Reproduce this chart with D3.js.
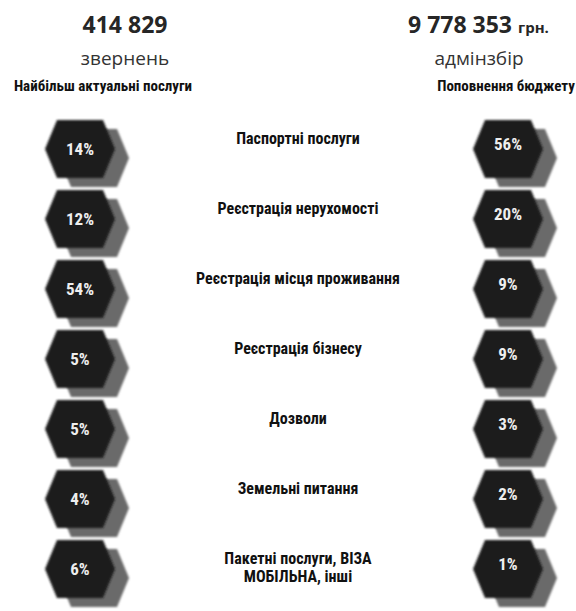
<!DOCTYPE html>
<html>
<head>
<meta charset="utf-8">
<script src="https://cdn.jsdelivr.net/npm/d3@7"></script>
<style>
    body { margin: 0; background: #fff; }
    svg { display: block; }
</style>
</head>
<body>
<div id="chart"></div>
<script>
(function() {
    const services = [
        'Паспортні послуги',
        'Реєстрація нерухомості',
        'Реєстрація місця проживання',
        'Реєстрація бізнесу',
        'Дозволи',
        'Земельні питання',
        'Пакетні послуги, ВІЗА\nМОБІЛЬНА, інші'
    ];
    const requestShares = [14, 12, 54, 5, 5, 4, 6];
    const budgetShares = [56, 20, 9, 9, 3, 2, 1];

    const requestsTotal = '414 829';
    const requestsUnit = 'звернень';
    const requestsTitle = 'Найбільш актуальні послуги';
    const budgetTotal = '9 778 353';
    const budgetCurrency = 'грн.';
    const budgetUnit = 'адмінзбір';
    const budgetTitle = 'Поповнення бюджету';

    const width = 576, height = 611;
    const narrow = '"Liberation Sans Narrow", "Arial Narrow", "Roboto Condensed", sans-serif';
    const wide = '"Open Sans", "Noto Sans", sans-serif';

    const svg = d3.select('#chart')
        .append('svg')
        .attr('width', width)
        .attr('height', height);

    const defs = svg.append('defs');
    defs.append('filter')
        .attr('id', 'soft')
        .attr('x', '-20%').attr('y', '-20%')
        .attr('width', '140%').attr('height', '140%')
        .append('feGaussianBlur')
        .attr('stdDeviation', 0.9);

    const y = d3.scalePoint()
        .domain(d3.range(services.length))
        .range([149, 569]);

    const hw = 35, inset = 12, hh = 29;
    function hexPath(cx, cy) {
        const pts = [
            [cx - hw, cy], [cx - hw + inset, cy - hh], [cx + hw - inset, cy - hh],
            [cx + hw, cy], [cx + hw - inset, cy + hh], [cx - hw + inset, cy + hh]
        ];
        return d3.line()(pts) + 'Z';
    }

    // Headers
    const header = svg.append('g').attr('fill', '#262626');
    header.append('text')
        .attr('x', 125).attr('y', 33)
        .attr('text-anchor', 'middle')
        .style('font', `bold 23px ${wide}`)
        .text(requestsTotal);
    header.append('text')
        .attr('x', 125).attr('y', 65)
        .attr('text-anchor', 'middle')
        .style('font', `19px ${wide}`)
        .attr('fill', '#333')
        .text(requestsUnit);
    header.append('text')
        .attr('x', 103).attr('y', 91)
        .attr('text-anchor', 'middle')
        .style('font', `bold 15px ${narrow}`)
        .attr('fill', '#111')
        .text(requestsTitle);

    const money = header.append('text')
        .attr('x', 408).attr('y', 33)
        .style('font', `bold 23px ${wide}`);
    money.append('tspan').text(budgetTotal);
    money.append('tspan')
        .attr('dx', 6)
        .style('font-size', '15px')
        .text(budgetCurrency);
    header.append('text')
        .attr('x', 479).attr('y', 65)
        .attr('text-anchor', 'middle')
        .style('font', `19px ${wide}`)
        .attr('fill', '#333')
        .text(budgetUnit);
    header.append('text')
        .attr('x', 506).attr('y', 91)
        .attr('text-anchor', 'middle')
        .style('font', `bold 15px ${narrow}`)
        .attr('fill', '#111')
        .text(budgetTitle);

    // Hexagon columns
    const columns = [
        {cx: 80, values: requestShares, dy: 6},
        {cx: 508, values: budgetShares, dy: 1}
    ];

    columns.forEach(col => {
        const g = svg.append('g');
        const cell = g.selectAll('.cell')
            .data(col.values)
            .enter().append('g')
            .attr('class', 'cell');

        cell.append('path')
            .attr('d', (d, i) => hexPath(col.cx + 14, y(i) + 9))
            .attr('fill', '#6b6b6b')
            .attr('filter', 'url(#soft)');

        cell.append('path')
            .attr('d', (d, i) => hexPath(col.cx, y(i)))
            .attr('fill', '#1b1b1b')
            .attr('filter', 'url(#soft)');

        cell.append('text')
            .attr('x', col.cx)
            .attr('y', (d, i) => y(i) + col.dy)
            .attr('text-anchor', 'middle')
            .attr('fill', '#eeeeee')
            .style('font', `bold 17px ${narrow}`)
            .text(d => d + '%');
    });

    // Service labels
    const label = svg.selectAll('.label')
        .data(services)
        .enter().append('text')
        .attr('class', 'label')
        .attr('text-anchor', 'middle')
        .attr('fill', '#111')
        .style('font', `bold 16px ${narrow}`)
        .attr('y', (d, i) => y(i) - 5);

    label.selectAll('tspan')
        .data(d => d.split('\n'))
        .enter().append('tspan')
        .attr('x', 298)
        .attr('dy', (d, i) => i === 0 ? 0 : 18)
        .text(d => d);
})();
</script>
</body>
</html>
